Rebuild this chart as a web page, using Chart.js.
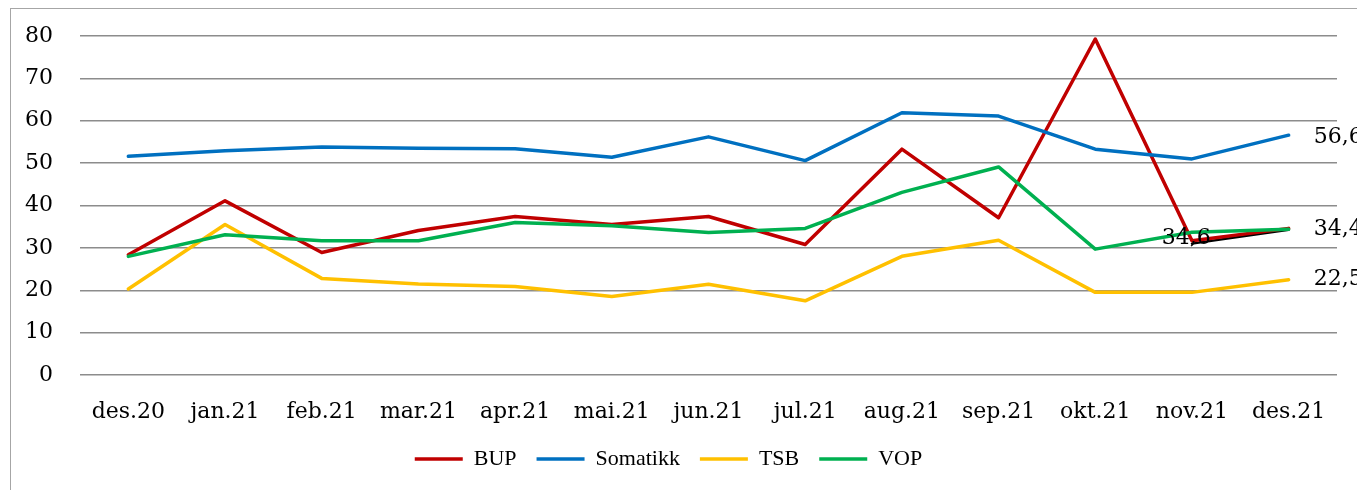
<!DOCTYPE html>
<html>
<head>
<meta charset="utf-8">
<script src="https://cdn.jsdelivr.net/npm/chart.js@4/dist/chart.umd.min.js"></script>
<style>
html,body{margin:0;padding:0;background:#fff;}
#wrap{position:relative;width:1357px;height:490px;overflow:hidden;}
#frame{position:absolute;left:10px;top:8px;width:1400px;height:520px;border:1px solid #a6a6a6;box-sizing:border-box;}
#box{position:absolute;left:0;top:0;width:1357px;height:490px;}
</style>
</head>
<body>
<div id="wrap">
<div id="frame"></div>
<div id="box"><canvas id="c"></canvas></div>
</div>
<script>
const categories = ['des.20','jan.21','feb.21','mar.21','apr.21','mai.21','jun.21','jul.21','aug.21','sep.21','okt.21','nov.21','des.21'];
const bup      = [28.4, 41.1, 28.9, 34.1, 37.4, 35.5, 37.4, 30.8, 53.3, 37.1, 79.3, 31.7, 34.6];
const somatikk = [51.6, 52.9, 53.8, 53.5, 53.4, 51.4, 56.2, 50.6, 61.9, 61.1, 53.3, 51.0, 56.6];
const tsb      = [20.3, 35.5, 22.8, 21.5, 20.9, 18.5, 21.4, 17.5, 28.0, 31.8, 19.5, 19.5, 22.5];
const vop      = [28.0, 33.1, 31.7, 31.7, 36.0, 35.2, 33.6, 34.6, 43.1, 49.1, 29.7, 33.7, 34.4];
const blackSeg = [null, null, null, null, null, null, null, null, null, null, null, 31.0, 34.3];
const yTicks   = [0, 10, 20, 30, 40, 50, 60, 70, 80];

const tickFont = {family: 'DejaVu Serif', size: 22};
const fmt = v => String(v).replace('.', ',');

const labelPlugin = {
  id: 'endLabels',
  afterDatasetsDraw(chart) {
    const ctx = chart.ctx;
    ctx.save();
    ctx.font = '22px "DejaVu Serif"';
    ctx.fillStyle = '#000';
    ctx.textBaseline = 'middle';
    const last = categories.length - 1;
    const put = (dsIndex, dx, dy, align) => {
      const meta = chart.getDatasetMeta(dsIndex);
      const pt = meta.data[last];
      const val = chart.data.datasets[dsIndex].data[last];
      ctx.textAlign = align;
      ctx.fillText(fmt(val), pt.x + dx, pt.y + dy);
    };
    put(1, 25, 2, 'left');   // Somatikk
    put(3, 25, 0, 'left');   // VOP
    put(2, 25, 0, 'left');   // TSB
    put(0, -78, 10, 'right'); // BUP
    ctx.restore();
  }
};

function ds(label, data, color, order, width) {
  return {
    label, data, order,
    borderColor: color, backgroundColor: color,
    pointBorderColor: color, pointBackgroundColor: color,
    borderWidth: width, pointBorderWidth: width,
    borderCapStyle: 'round', borderJoinStyle: 'round',
    tension: 0, pointRadius: 0, pointHoverRadius: 0
  };
}

new Chart(document.getElementById('c'), {
  type: 'line',
  data: {
    labels: categories,
    datasets: [
      ds('BUP', bup, '#C00000', 4, 3.5),
      ds('Somatikk', somatikk, '#0070C0', 3, 3.5),
      ds('TSB', tsb, '#FFC000', 2, 3.5),
      ds('VOP', vop, '#00B050', 1, 3.5),
      ds('', blackSeg, '#000000', 5, 2.5)
    ]
  },
  options: {
    responsive: true,
    maintainAspectRatio: false,
    animation: false,
    layout: {padding: {left: 0, right: 20, top: 36, bottom: 10}},
    scales: {
      x: {
        offset: true,
        grid: {display: false, drawTicks: false},
        border: {display: false},
        ticks: {font: tickFont, color: '#000', padding: 24, maxRotation: 0, autoSkip: false},
        afterFit: s => { s.height = 53; }
      },
      y: {
        min: 0, max: 80,
        afterBuildTicks: s => { s.ticks = yTicks.map(v => ({value: v})); },
        grid: {color: '#8c8c8c', lineWidth: 1.5, drawTicks: true, tickLength: 27, tickColor: 'rgba(0,0,0,0)'},
        border: {display: false},
        ticks: {font: tickFont, color: '#000', padding: 0},
        afterFit: s => { s.width = 80; }
      }
    },
    plugins: {
      legend: {
        position: 'bottom',
        labels: {
          filter: item => item.datasetIndex < 4,
          sort: (a, b) => a.datasetIndex - b.datasetIndex,
          usePointStyle: true,
          pointStyle: 'line',
          pointStyleWidth: 48,
          boxHeight: 3,
          padding: 20,
          color: '#000',
          font: {family: 'Liberation Serif', size: 22}
        }
      },
      tooltip: {enabled: false}
    }
  },
  plugins: [labelPlugin]
});
</script>
</body>
</html>
